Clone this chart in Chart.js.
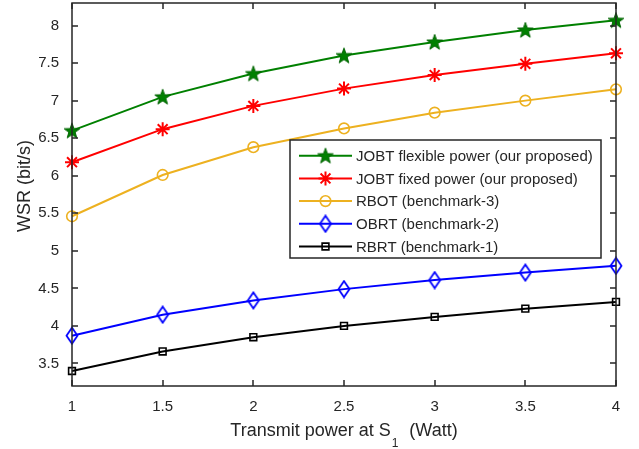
<!DOCTYPE html>
<html>
<head>
<meta charset="utf-8">
<script src="https://cdn.jsdelivr.net/npm/chart.js@4/dist/chart.umd.min.js"></script>
<style>
  html, body { margin: 0; padding: 0; background: #fff; }
  #contenedor { width: 639px; height: 449px; }
</style>
</head>
<body>
<div id="contenedor"><canvas id="grafico" width="639" height="449"></canvas></div>
<script>
// Datos
const potencias = [1, 1.5, 2, 2.5, 3, 3.5, 4];
const jobtFlexible = [6.60, 7.05, 7.36, 7.60, 7.78, 7.94, 8.07];
const jobtFijo = [6.18, 6.62, 6.93, 7.16, 7.34, 7.49, 7.63];
const rbot = [5.46, 6.01, 6.38, 6.63, 6.84, 7.00, 7.15];
const obrt = [3.87, 4.15, 4.34, 4.49, 4.61, 4.71, 4.80];
const rbrt = [3.40, 3.66, 3.85, 4.00, 4.12, 4.23, 4.32];

const ticksX = [1, 1.5, 2, 2.5, 3, 3.5, 4];
const ticksY = [3.5, 4, 4.5, 5, 5.5, 6, 6.5, 7, 7.5, 8];

const nombres = [
    "JOBT flexible power (our proposed)",
    "JOBT fixed power (our proposed)",
    "RBOT (benchmark-3)",
    "OBRT (benchmark-2)",
    "RBRT (benchmark-1)"
];

const FUENTE = '"Liberation Sans", Arial, sans-serif';
const GRIS = "#262626";

// marcador de estrella de 5 puntas (pentagrama de MATLAB)
function crearEstrella(color) {
    const c = document.createElement("canvas");
    c.width = 18; c.height = 18;
    const g = c.getContext("2d");
    const rExt = 8.2, rInt = 3.3;
    g.beginPath();
    for (let i = 0; i < 10; i++) {
        const r = i % 2 === 0 ? rExt : rInt;
        const ang = -Math.PI / 2 + i * Math.PI / 5;
        const px = 9 + r * Math.cos(ang), py = 9.6 + r * Math.sin(ang);
        if (i === 0) g.moveTo(px, py); else g.lineTo(px, py);
    }
    g.closePath();
    g.fillStyle = color;
    g.fill();
    g.strokeStyle = "#006400";
    g.lineWidth = 1;
    g.stroke();
    return c;
}

// rombo más alto que ancho
function crearRombo(color) {
    const c = document.createElement("canvas");
    c.width = 14; c.height = 19;
    const g = c.getContext("2d");
    g.beginPath();
    g.moveTo(7, 1.5);
    g.lineTo(12.5, 9.5);
    g.lineTo(7, 17.5);
    g.lineTo(1.5, 9.5);
    g.closePath();
    g.strokeStyle = color;
    g.lineWidth = 1.8;
    g.stroke();
    return c;
}

const series = [
    { nombre: nombres[0], valores: jobtFlexible, color: "#008000", estilo: crearEstrella("#008000"), radio: 8, grosor: 1.6 },
    { nombre: nombres[1], valores: jobtFijo, color: "#ff0000", estilo: "star", radio: 7, grosor: 2 },
    { nombre: nombres[2], valores: rbot, color: "#EDB120", estilo: "circle", radio: 5.3, grosor: 1.6 },
    { nombre: nombres[3], valores: obrt, color: "#0000ff", estilo: crearRombo("#0000ff"), radio: 7, grosor: 1.6 },
    { nombre: nombres[4], valores: rbrt, color: "#000000", estilo: "rect", radio: 4.8, grosor: 1.6 }
];

const datasets = series.map(s => ({
    label: s.nombre,
    data: potencias.map((x, i) => ({ x: x, y: s.valores[i] })),
    borderColor: s.color,
    backgroundColor: "rgba(0,0,0,0)",
    pointBackgroundColor: "rgba(0,0,0,0)",
    pointBorderColor: s.color,
    pointBorderWidth: s.grosor,
    borderWidth: 2,
    pointStyle: s.estilo,
    pointRadius: s.radio,
    pointHoverRadius: s.radio,
    tension: 0,
    clip: false
}));

// caja, marcas hacia adentro, títulos y leyenda estilo MATLAB
const estiloMatlab = {
    id: "estiloMatlab",
    afterDatasetsDraw(chart) {
        const { ctx, chartArea: a, scales } = chart;
        ctx.save();
        ctx.strokeStyle = GRIS;
        ctx.lineWidth = 1.5;
        ctx.strokeRect(a.left, a.top, a.right - a.left, a.bottom - a.top);

        ctx.beginPath();
        ticksX.forEach(v => {
            const x = Math.round(scales.x.getPixelForValue(v));
            ctx.moveTo(x, a.bottom); ctx.lineTo(x, a.bottom - 6);
            ctx.moveTo(x, a.top); ctx.lineTo(x, a.top + 6);
        });
        ticksY.forEach(v => {
            const y = Math.round(scales.y.getPixelForValue(v));
            ctx.moveTo(a.left, y); ctx.lineTo(a.left + 6, y);
            ctx.moveTo(a.right, y); ctx.lineTo(a.right - 6, y);
        });
        ctx.stroke();

        // título eje Y
        ctx.fillStyle = GRIS;
        ctx.font = "18px " + FUENTE;
        ctx.save();
        ctx.translate(25, 186);
        ctx.rotate(-Math.PI / 2);
        ctx.textAlign = "center";
        ctx.textBaseline = "middle";
        ctx.fillText("WSR (bit/s)", 0, 0);
        ctx.restore();

        // título eje X con subíndice
        const t1 = "Transmit power at S", t2 = "1", t3 = "(Watt)";
        ctx.textAlign = "left";
        ctx.textBaseline = "alphabetic";
        ctx.font = "18px " + FUENTE;
        const w1 = ctx.measureText(t1).width;
        const w3 = ctx.measureText(t3).width;
        ctx.font = "12px " + FUENTE;
        const w2 = ctx.measureText(t2).width;
        const hueco = 12;
        const total = w1 + w2 + hueco + w3;
        let xi = (a.left + a.right) / 2 - total / 2;
        ctx.font = "18px " + FUENTE;
        ctx.fillText(t1, xi, 436);
        ctx.font = "12px " + FUENTE;
        ctx.fillText(t2, xi + w1 + 1, 447);
        ctx.font = "18px " + FUENTE;
        ctx.fillText(t3, xi + w1 + w2 + hueco, 436);

        // leyenda
        const caja = { x: 290, y: 140, w: 311, h: 118 };
        ctx.fillStyle = "#ffffff";
        ctx.fillRect(caja.x, caja.y, caja.w, caja.h);
        ctx.strokeStyle = GRIS;
        ctx.lineWidth = 1.5;
        ctx.strokeRect(caja.x, caja.y, caja.w, caja.h);
        ctx.font = "15px " + FUENTE;
        ctx.textBaseline = "middle";
        series.forEach((s, i) => {
            const y = 155.7 + i * 22.7;
            ctx.strokeStyle = s.color;
            ctx.lineWidth = 2;
            ctx.beginPath();
            ctx.moveTo(299, y); ctx.lineTo(352, y);
            ctx.stroke();
            ctx.fillStyle = "rgba(0,0,0,0)";
            ctx.lineWidth = s.grosor;
            Chart.helpers.drawPoint(ctx, { pointStyle: s.estilo, radius: s.radio, rotation: 0, borderWidth: s.grosor }, 325.5, y);
            ctx.fillStyle = GRIS;
            ctx.fillText(s.nombre, 356, y + 1);
        });
        ctx.restore();
    }
};

new Chart(document.getElementById("grafico"), {
    type: "line",
    data: { datasets: datasets },
    options: {
        responsive: false,
        devicePixelRatio: 1,
        animation: false,
        layout: { autoPadding: false, padding: { top: 3, right: 23, left: 0, bottom: 0 } },
        plugins: { legend: { display: false }, tooltip: { enabled: false } },
        scales: {
            x: {
                type: "linear",
                min: 1,
                max: 4,
                afterBuildTicks: s => { s.ticks = ticksX.map(v => ({ value: v })); },
                afterFit: s => { s.height = 63; s.paddingLeft = 0; s.paddingRight = 0; },
                grid: { display: false, drawTicks: false },
                border: { display: false },
                ticks: { color: GRIS, font: { family: FUENTE, size: 15 }, padding: 12, maxRotation: 0, callback: v => String(v) }
            },
            y: {
                min: 3.2,
                max: 8.3,
                afterBuildTicks: s => { s.ticks = ticksY.map(v => ({ value: v })); },
                afterFit: s => { s.width = 72; s.paddingTop = 0; s.paddingBottom = 0; },
                grid: { display: false, drawTicks: false },
                border: { display: false },
                ticks: { color: GRIS, font: { family: FUENTE, size: 15 }, padding: 13, callback: v => String(v) }
            }
        }
    },
    plugins: [estiloMatlab]
});
</script>
</body>
</html>
